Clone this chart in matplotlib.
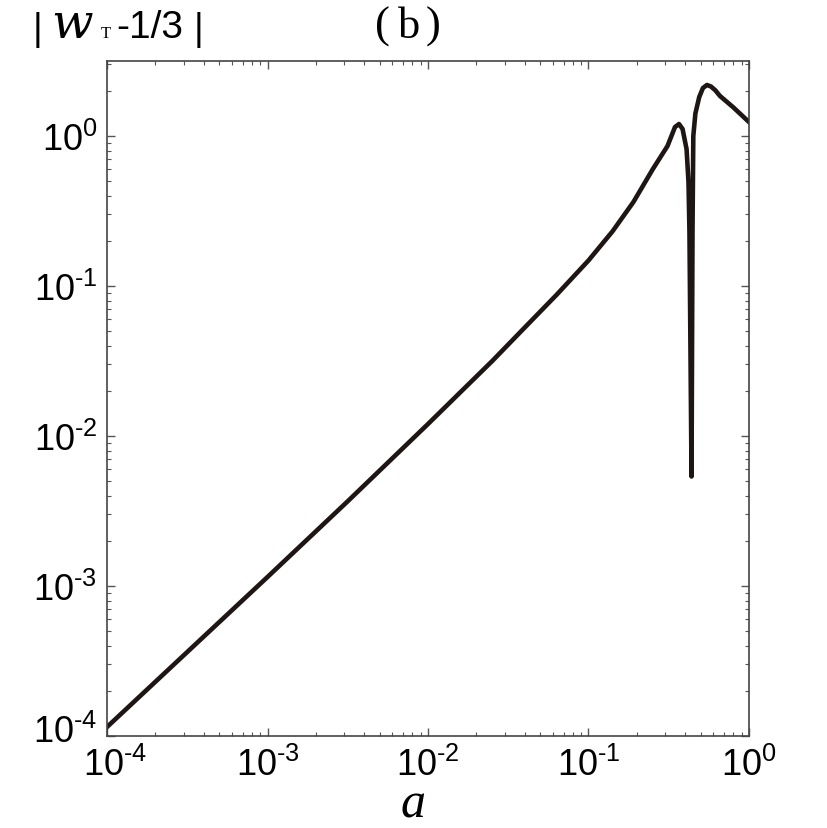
import numpy as np
import matplotlib
matplotlib.use('Agg')
import matplotlib.pyplot as plt
from matplotlib.ticker import LogLocator, FixedLocator, NullFormatter
from matplotlib.transforms import ScaledTranslation

# data
a_vals = [1e-4, 1e-3, 3.162e-3, 0.01, 0.01585, 0.02512, 0.03981, 0.0631, 0.1,
          0.1413, 0.1905, 0.2512, 0.3105, 0.3459, 0.3664, 0.3855, 0.4083, 0.4198,
          0.4256, 0.4385, 0.4446, 0.4498, 0.4634, 0.4898, 0.5164, 0.547, 0.5794,
          0.6166, 0.6592, 0.7943, 1.0]
w_vals = [1.148e-4, 1.148e-3, 3.673e-3, 0.01202, 0.0195, 0.0316, 0.0525, 0.0871, 0.148,
          0.2317, 0.3631, 0.5998, 0.857, 1.148, 1.202, 1.114, 0.8185, 0.4932,
          0.2291, 0.00537, 0.2291, 1.0, 1.413, 1.82, 2.089, 2.188, 2.138,
          2.018, 1.849, 1.56, 1.239]
x_ticks = [1e-4, 1e-3, 1e-2, 1e-1, 1e0]
x_ticklabels = ['-4', '-3', '-2', '-1', '0']
y_ticks = [1e-4, 1e-3, 1e-2, 1e-1, 1e0]
y_ticklabels = ['-4', '-3', '-2', '-1', '0']

plt.rcParams['font.family'] = ['Liberation Sans', 'DejaVu Sans']
plt.rcParams['mathtext.fontset'] = 'custom'
plt.rcParams['mathtext.rm'] = 'Liberation Sans'

W, H = 828, 829
fig = plt.figure(figsize=(W / 100, H / 100), dpi=100)
ax = fig.add_axes([107 / W, 1 - 737 / H, (749 - 107) / W, (737 - 62) / H])

ax.plot(a_vals, w_vals, color='#1e1614', lw=3.3, solid_joinstyle='round')

ax.set_xscale('log')
ax.set_yscale('log')
ax.set_xlim(1e-4, 1e0)
ax.set_ylim(1e-4, 10 ** 0.5)


def lab(s):
    return r'$\mathregular{10^{\text{' + s + '}}}$'


ax.xaxis.set_major_locator(FixedLocator(x_ticks))
ax.yaxis.set_major_locator(FixedLocator(y_ticks))
ax.set_xticklabels([lab(s) for s in x_ticklabels])
ax.set_yticklabels([lab(s) for s in y_ticklabels])
ax.xaxis.set_minor_locator(LogLocator(base=10, subs=np.arange(2, 10)))
ax.yaxis.set_minor_locator(LogLocator(base=10, subs=np.arange(2, 10)))
ax.xaxis.set_minor_formatter(NullFormatter())
ax.yaxis.set_minor_formatter(NullFormatter())

ax.tick_params(which='both', direction='in', top=True, right=True, color='#555555')
ax.tick_params(which='major', length=6, width=1.0, labelsize=26)
ax.tick_params(which='minor', length=3, width=0.8)
ax.tick_params(axis='y', which='major', pad=7)
ax.tick_params(axis='x', which='major', pad=8)
for sp in ax.spines.values():
    sp.set_linewidth(1.2)
    sp.set_color('#444444')

# the two 10^-4 labels sit in the corner: nudge them apart a little
xl0 = ax.get_xticklabels()[0]
xl0.set_transform(xl0.get_transform() + ScaledTranslation(8 / 100, 0, fig.dpi_scale_trans))
yl0 = ax.get_yticklabels()[0]
yl0.set_transform(yl0.get_transform() + ScaledTranslation(0, 8 / 100, fig.dpi_scale_trans))


def px(x, y):
    return x / W, 1 - y / H


# y label at top left, built from pieces
fig.text(*px(33, 40), '|', fontsize=27, family='Liberation Sans', va='baseline')
fig.text(*px(72, 38), 'w', fontsize=35, family='DejaVu Serif', style='italic',
         va='baseline', ha='center')
fig.text(*px(101, 38), 'T', fontsize=12, family='Liberation Serif', va='baseline')
fig.text(*px(116, 38), '-1/3', fontsize=28, family='Liberation Sans', va='baseline')
fig.text(*px(194, 40), '|', fontsize=27, family='Liberation Sans', va='baseline')

# panel tag
fig.text(*px(375, 38), '(', fontsize=32, family='Liberation Serif', va='baseline')
fig.text(*px(409, 38), 'b', fontsize=32, family='Liberation Serif', va='baseline', ha='center')
fig.text(*px(441, 38), ')', fontsize=32, family='Liberation Serif', va='baseline', ha='right')

# x label
fig.text(*px(413, 829), 'a', fontsize=36, family='Liberation Serif', style='italic',
         va='bottom', ha='center')

fig.savefig('out.png', dpi=100)
